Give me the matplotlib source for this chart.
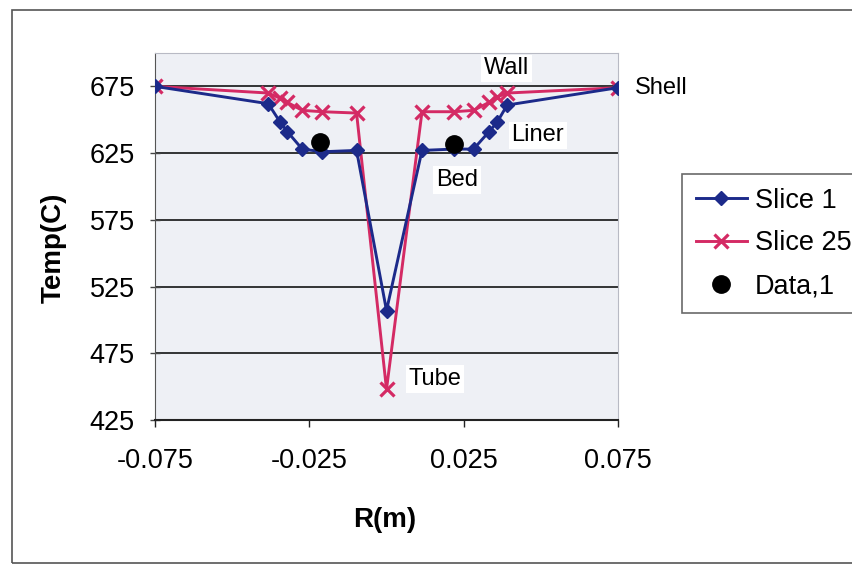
import matplotlib
matplotlib.use("Agg")
import matplotlib.pyplot as plt
from matplotlib.patches import Rectangle

plt.rcParams['font.family'] = ['Liberation Sans', 'DejaVu Sans']

# radius positions (m)
r = [-0.075, -0.0383, -0.0344, -0.0321, -0.0273, -0.0208, -0.0097, 0.0,
     0.0115, 0.0218, 0.0282, 0.0332, 0.0358, 0.0391, 0.075]
slice1 = [675, 662, 648, 641, 628, 626, 627, 507, 627, 628, 628, 641, 648, 661, 674]
slice25 = [675, 670, 666, 663, 657, 656, 655, 448, 656, 656, 657, 663, 667, 670, 674]

# measured data
r_data = [-0.0214, 0.0218]
t_data = [633, 632]

xticks = [-0.075, -0.025, 0.025, 0.075]
yticks = [425, 475, 525, 575, 625, 675]

blue = '#1c2a8a'
red = '#d42a64'

fig = plt.figure(figsize=(8.52, 5.65), dpi=100)
fig.patch.set_facecolor('white')
# outer chart frame
fig.patches.append(Rectangle((12 / 852, 1 - 563 / 565), 845 / 852, 553 / 565,
                             transform=fig.transFigure, fill=False,
                             edgecolor='#555555', lw=1.2))

ax = fig.add_axes([155 / 852, 1 - 420 / 565, 463 / 852, 367 / 565])
ax.set_facecolor('#eef0f5')

ax.plot(r, slice1, color=blue, lw=2.1, marker='D', ms=7.5, mfc=blue, mec=blue,
        label='Slice 1', zorder=4)
ax.plot(r, slice25, color=red, lw=2.1, marker='x', ms=10, mew=2.3, mec=red,
        label='Slice 25', zorder=3)
ax.plot(r_data, t_data, linestyle='none', marker='o', ms=12.5, color='black',
        label='Data,1', zorder=5)

ax.set_xlim(-0.075, 0.075)
ax.set_ylim(425, 700)
ax.set_xticks(xticks)
ax.set_xticklabels(['-0.075', '-0.025', '0.025', '0.075'])
ax.set_yticks(yticks)
ax.yaxis.grid(True, color='black', lw=1.1)
ax.set_axisbelow(True)

ax.tick_params(axis='y', direction='inout', length=7, width=1, pad=11,
               labelsize=19.5, color='#444444')
ax.tick_params(axis='x', direction='out', length=5, width=1, pad=15,
               labelsize=19.5, color='#222222')

ax.spines['left'].set_color('#555555')
ax.spines['bottom'].set_color('#222222')
ax.spines['bottom'].set_linewidth(1.5)
ax.spines['top'].set_color('#b8bac4')
ax.spines['right'].set_color('#b8bac4')

ax.set_xlabel('R(m)', fontsize=20, fontweight='bold')
ax.xaxis.set_label_coords(0.497, -0.272)
ax.xaxis.label.set_va('center')
ax.set_ylabel('Temp(C)', fontsize=20, fontweight='bold')
ax.yaxis.set_label_coords(-0.218, 0.47)
ax.yaxis.label.set_va('center')

box = dict(facecolor='white', edgecolor='none', pad=2)
ax.text(0.039, 688.5, 'Wall', fontsize=17, ha='center', va='center', bbox=box)
ax.text(0.049, 638.3, 'Liner', fontsize=17, ha='center', va='center', bbox=box)
ax.text(0.0228, 604.6, 'Bed', fontsize=17, ha='center', va='center', bbox=box)
ax.text(0.0157, 455.7, 'Tube', fontsize=17, ha='center', va='center', bbox=box)
ax.text(0.0805, 673.5, 'Shell', fontsize=17, ha='left', va='center',
        clip_on=False)

leg = ax.legend(loc='upper left', bbox_to_anchor=(682 / 852, 1 - 174 / 565),
                bbox_transform=fig.transFigure, borderaxespad=0, fontsize=19.5,
                frameon=True, fancybox=False, edgecolor='#444444',
                handlelength=1.9, handletextpad=0.3, labelspacing=0.62,
                borderpad=0.5)
leg.get_frame().set_linewidth(1.2)

fig.savefig('out.png', dpi=100)
